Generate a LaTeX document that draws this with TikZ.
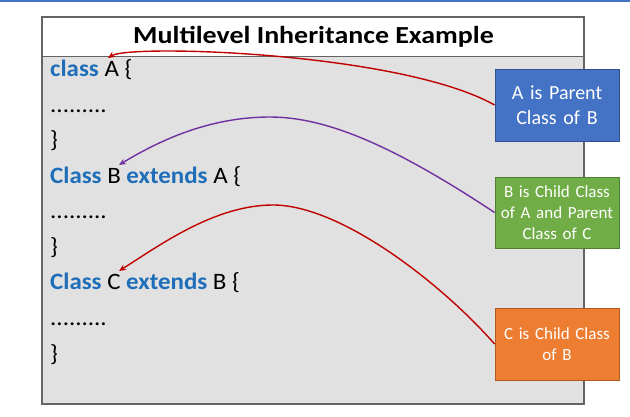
\documentclass[tikz,border=0pt]{standalone}
\usepackage{fontspec}
\usepackage{graphicx}
\setmainfont{Carlito}
\newfontfamily\boxfont[WordSpace=0.75]{Carlito}
\usetikzlibrary{arrows.meta}
\definecolor{kw}{RGB}{30,110,185}
\definecolor{panelgray}{RGB}{225,225,225}
\definecolor{panelline}{RGB}{100,100,100}
\definecolor{bluefill}{RGB}{68,114,196}
\definecolor{blueline}{RGB}{47,82,143}
\definecolor{greenfill}{RGB}{112,173,71}
\definecolor{greenline}{RGB}{80,126,50}
\definecolor{orangefill}{RGB}{237,125,49}
\definecolor{orangeline}{RGB}{174,90,33}
\definecolor{arrowred}{RGB}{192,0,0}
\definecolor{arrowpurple}{RGB}{112,48,160}
\definecolor{topband}{RGB}{68,114,196}
\newcommand\codestretch[1]{\scalebox{1.06}[1]{#1}}
\newcommand\titlestretch[1]{\scalebox{1.14}[1]{#1}}
\newcommand\kwd[1]{\textcolor{kw}{\textbf{#1}}}
\tikzset{
  codeline/.style={anchor=base west, inner sep=0pt, font=\fontsize{23.5}{23.5}\selectfont},
  notebox/.style={draw, line width=0.8pt, minimum width=124pt, text width=120pt,
    align=center, inner sep=0pt, text=white},
  link/.style={line width=1.4pt, -{Stealth[length=7pt,width=6pt]}}
}
\begin{document}
\begin{tikzpicture}[x=1pt,y=-1pt]
\useasboundingbox (0,0) rectangle (630,417);
\fill[white] (0,0) rectangle (630,417);
\fill[topband] (0,0) rectangle (630,2);
% panel
\fill[panelgray] (42,57) rectangle (584,404);
\fill[white] (42,17) rectangle (584,57);
\draw[panelline, line width=1.2pt] (42,17) rectangle (584,404);
\draw[panelline, line width=1pt] (42,57) -- (584,57);
\node[inner sep=0pt, font=\fontsize{24.5}{24.5}\selectfont\bfseries] (title) at (313.5,37) {\titlestretch{Multilevel Inheritance Example}};
% code
\node[codeline] (l1) at (50,77) {\codestretch{\kwd{class} A \{}};
\node[codeline] (l2) at (50,112.5) {\codestretch{.........}};
\node[codeline] (l3) at (50,148) {\codestretch{\}}};
\node[codeline] (l4) at (50,183.5) {\codestretch{\kwd{Class} B \kwd{extends} A \{}};
\node[codeline] (l5) at (50,219) {\codestretch{.........}};
\node[codeline] (l6) at (50,254.5) {\codestretch{\}}};
\node[codeline] (l7) at (50,290) {\codestretch{\kwd{Class} C \kwd{extends} B \{}};
\node[codeline] (l8) at (50,325.5) {\codestretch{.........}};
\node[codeline] (l9) at (50,361) {\codestretch{\}}};
% boxes
\node[notebox, fill=bluefill, draw=blueline, minimum height=72pt,
  font=\boxfont\fontsize{20}{25}\selectfont] (blue) at (557,105) {A is Parent\\Class of B};
\node[notebox, fill=greenfill, draw=greenline, minimum height=71pt,
  font=\boxfont\fontsize{17}{21}\selectfont] (green) at (557,212.5) {B is Child Class\\of A and Parent\\Class of C};
\node[notebox, fill=orangefill, draw=orangeline, minimum height=72pt,
  font=\boxfont\fontsize{17}{21}\selectfont] (orange) at (557,344) {C is Child Class\\of B};
% arrow targets
\coordinate (tipA) at (108,58);
\coordinate (tipB) at (119,165);
\coordinate (tipC) at (119,271);
\draw[link, arrowred] (blue.west) .. controls (400,52) and (130,44) .. (tipA);
\draw[link, arrowpurple] (green.west) .. controls (400,150) and (330,117) .. (270,117)
   .. controls (210,117) and (160,140) .. (tipB);
\draw[link, arrowred] (orange.west) .. controls (440,282) and (340,205) .. (273,205)
   .. controls (215,205) and (160,245) .. (tipC);
\end{tikzpicture}
\end{document}
